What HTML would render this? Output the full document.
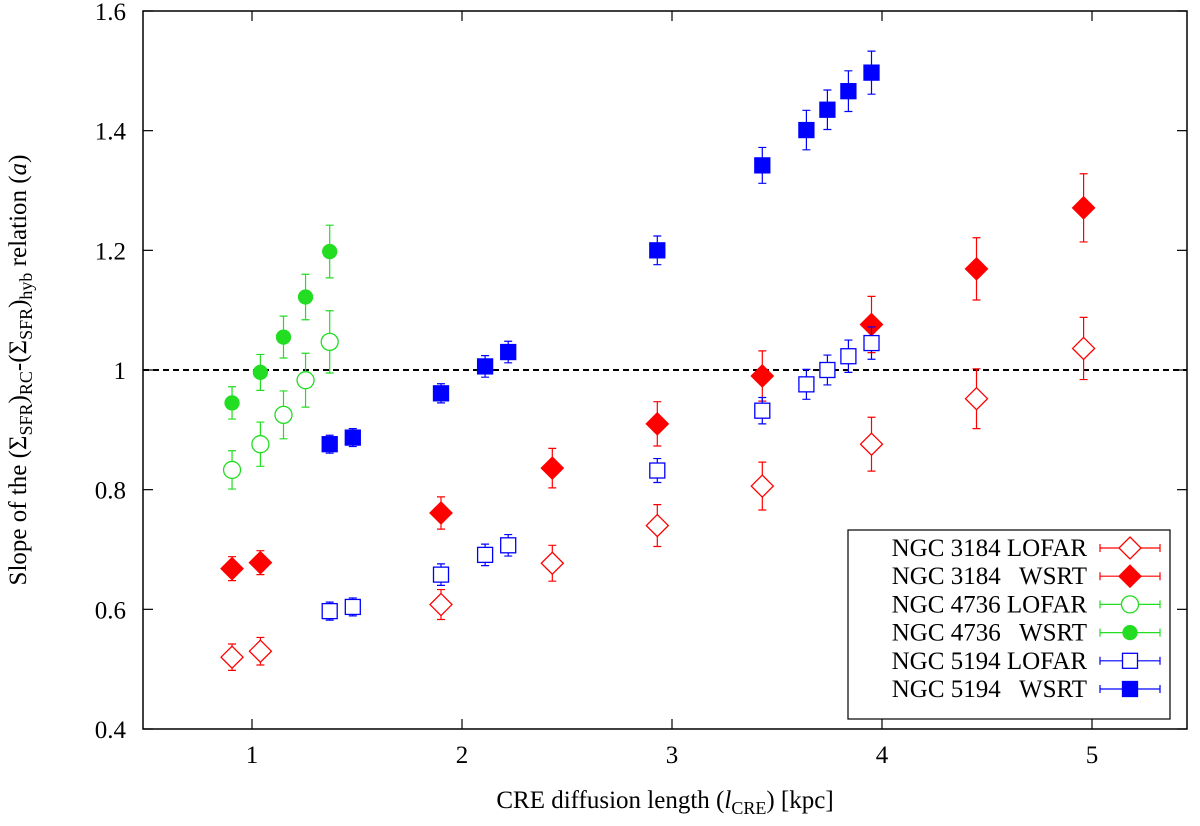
<!DOCTYPE html>
<html><head><meta charset="utf-8"><style>
body{margin:0;background:#fff}
svg text{font-family:"Liberation Serif",serif;font-size:25px;fill:#000;white-space:pre}
</style></head><body>
<svg id="c" width="1200" height="821" xmlns="http://www.w3.org/2000/svg">
<rect x="143" y="11" width="1044" height="718" fill="none" stroke="#000" stroke-width="1.5"/>
<g id="ax"></g>
<g id="marks"></g>
<text x="665" y="808" text-anchor="middle">CRE diffusion length (<tspan font-style="italic">l</tspan><tspan font-size="18" dy="6">CRE</tspan><tspan dy="-6">) [kpc]</tspan></text>
<text transform="translate(26,370) rotate(-90)" text-anchor="middle">Slope of the (Σ<tspan font-size="18" dy="6">SFR</tspan><tspan dy="-6">)</tspan><tspan font-size="18" dy="6">RC</tspan><tspan dy="-6">-(Σ</tspan><tspan font-size="18" dy="6">SFR</tspan><tspan dy="-6">)</tspan><tspan font-size="18" dy="6">hyb</tspan><tspan dy="-6"> relation (</tspan><tspan font-style="italic">a</tspan>)</text>
<rect x="848" y="530" width="322" height="189" fill="#fff" stroke="#000" stroke-width="1.2"/>
<g id="leg"></g>
</svg>
<script>
const xs3184=[0.905,1.04,1.9,2.43,2.93,3.43,3.95,4.45,4.96];
const l3184=[0.52,0.53,0.608,0.677,0.74,0.806,0.876,0.952,1.036];
const l3184e=[0.022,0.023,0.025,0.03,0.035,0.04,0.045,0.05,0.052];
const w3184=[0.668,0.678,0.761,0.836,0.91,0.99,1.076,1.169,1.271];
const w3184e=[0.02,0.02,0.027,0.033,0.037,0.042,0.047,0.052,0.057];
const xs4736=[0.905,1.04,1.15,1.255,1.37];
const l4736=[0.833,0.876,0.925,0.983,1.047];
const l4736e=[0.032,0.037,0.04,0.045,0.052];
const w4736=[0.945,0.996,1.055,1.122,1.198];
const w4736e=[0.027,0.03,0.035,0.038,0.044];
const xs5194=[1.37,1.48,1.9,2.11,2.22,2.93,3.43,3.64,3.74,3.84,3.95];
const l5194=[0.597,0.604,0.658,0.691,0.707,0.832,0.932,0.976,1.0,1.023,1.045];
const l5194e=[0.015,0.015,0.018,0.018,0.018,0.02,0.022,0.025,0.025,0.027,0.027];
const w5194=[0.876,0.887,0.961,1.006,1.03,1.2,1.342,1.401,1.435,1.466,1.497];
const w5194e=[0.015,0.015,0.016,0.018,0.018,0.024,0.03,0.033,0.033,0.034,0.036];
const xTicks=[1,2,3,4,5];
const yTicks=[0.4,0.6,0.8,1,1.2,1.4,1.6];
const legendLabels=["NGC 3184 LOFAR","NGC 3184   WSRT","NGC 4736 LOFAR","NGC 4736   WSRT","NGC 5194 LOFAR","NGC 5194   WSRT"];

const NS="http://www.w3.org/2000/svg";
const X=v=>252+210*(v-1);
const Y=v=>11+(1.6-v)*598.33;
function mk(t,a,p){const e=document.createElementNS(NS,t);for(const k in a)e.setAttribute(k,a[k]);p.appendChild(e);return e;}
const ax=document.getElementById('ax'),mg=document.getElementById('marks'),lg=document.getElementById('leg');
xTicks.forEach(v=>{const x=X(v);
 let t=mk('line',{x1:x,x2:x,y1:729,y2:719,stroke:'#000','stroke-width':1.2},ax);
 
 t=mk('line',{x1:x,x2:x,y1:11,y2:21,stroke:'#000','stroke-width':1.2},ax);
 
 const l=mk('text',{x:x,y:763,'text-anchor':'middle'},ax);l.textContent=v;
 });
yTicks.forEach(v=>{const y=Y(v);
 let t=mk('line',{x1:143,x2:153,y1:y,y2:y,stroke:'#000','stroke-width':1.2},ax);
 
 t=mk('line',{x1:1187,x2:1177,y1:y,y2:y,stroke:'#000','stroke-width':1.2},ax);
 
 const l=mk('text',{x:126,y:y+9,'text-anchor':'end'},ax);l.textContent=(v===1?'1':v.toFixed(1));
 });
const ref=mk('line',{x1:143,x2:1187,y1:Y(1),y2:Y(1),stroke:'#000','stroke-width':2,'stroke-dasharray':'6,4'},ax);


function marker(shape,fill,col,x,y,p){
 const f=fill?col:'#fff';let e;
 if(shape==='d')e=mk('polygon',{points:`${x},${y-11} ${x+11},${y} ${x},${y+11} ${x-11},${y}`,fill:f,stroke:col,'stroke-width':1.3},p);
 else if(shape==='c')e=mk('circle',{cx:x,cy:y,r:fill?7:8.5,fill:f,stroke:col,'stroke-width':1.3},p);
 else e=mk('rect',{x:x-7.5,y:y-7.5,width:15,height:15,fill:f,stroke:col,'stroke-width':1.3},p);
 return e;}
const series=[
 [xs3184,l3184,l3184e,'d',false,'#f00'],[xs3184,w3184,w3184e,'d',true,'#f00'],
 [xs4736,l4736,l4736e,'c',false,'#2d2'],[xs4736,w4736,w4736e,'c',true,'#2d2'],
 [xs5194,l5194,l5194e,'s',false,'#00f'],[xs5194,w5194,w5194e,'s',true,'#00f']];
series.forEach((s,si)=>{
 const [xs,ys,es,sh,fill,col]=s;
 const g=mk('g',{},mg);
 
 xs.forEach((xv,i)=>{
  const x=X(xv),y=Y(ys[i]),y1=Y(ys[i]+es[i]),y2=Y(ys[i]-es[i]);
  const eb=mk('path',{d:`M${x},${y1}V${y2}M${x-4},${y1}H${x+4}M${x-4},${y2}H${x+4}`,stroke:col,'stroke-width':1.2,fill:'none'},g);
  
  const m=marker(sh,fill,col,x,y,g);
  
 });
 const ly=548+28.2*si;
 const t=mk('text',{x:1087,y:ly+8,'text-anchor':'end'},lg);t.textContent=legendLabels[si];
 
 const ln=mk('path',{d:`M1100,${ly}H1160M1100,${ly-4}V${ly+4}M1160,${ly-4}V${ly+4}`,stroke:col,'stroke-width':1.2,fill:'none'},lg);
 
 const lm=marker(sh,fill,col,1130,ly,lg);
 
});
</script>
</body></html>
